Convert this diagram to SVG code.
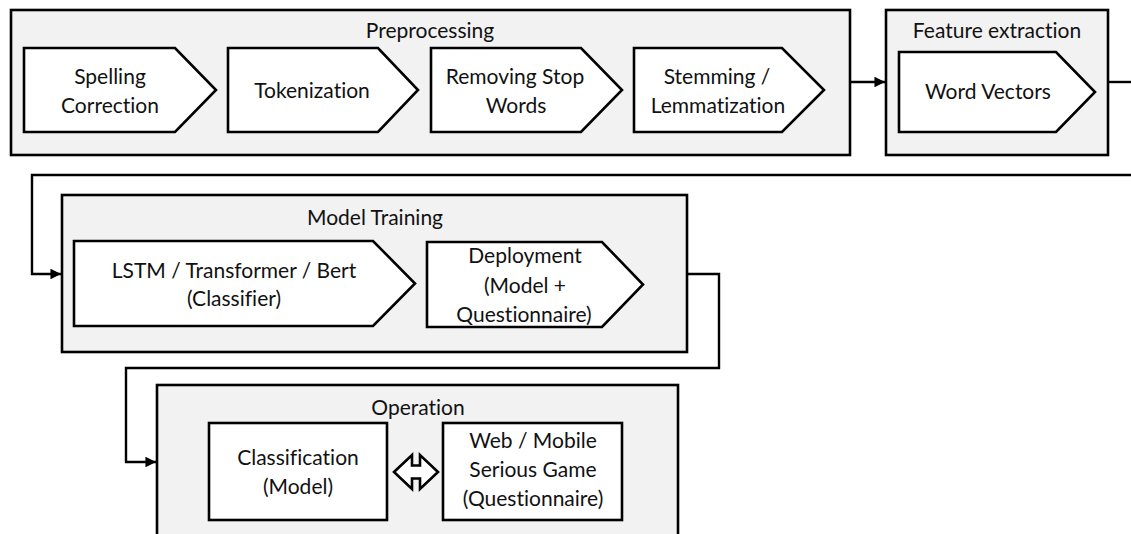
<svg xmlns="http://www.w3.org/2000/svg" width="1131" height="534" viewBox="0 0 1131 534">
  <defs>
    <style>
      .stage { fill: #f2f2f2; stroke: #000; stroke-width: 2.6; }
      .step { fill: #fff; stroke: #000; stroke-width: 2.6; stroke-linejoin: miter; }
      .link { fill: none; stroke: #000; stroke-width: 2.4; }
      text { font-family: Lato, "Open Sans", "Liberation Sans", sans-serif; font-size: 21px; fill: #111; text-anchor: middle; font-variant-ligatures: none; }
    </style>
    <marker id="head" viewBox="0 0 10 10" refX="10" refY="5" markerWidth="4.4" markerHeight="4.4" orient="auto" markerUnits="strokeWidth">
      <path d="M0,0 L10,5 L0,10 z" fill="#000"/>
    </marker>
  </defs>
  <rect width="1131" height="534" fill="#fff"/>

  <!-- Preprocessing stage -->
  <g id="preprocessing">
    <rect class="stage" x="11" y="10" width="839" height="145"/>
    <text x="430" y="38">Preprocessing</text>
  </g>
  <g id="spelling-correction">
    <polygon class="step" points="24,48 175,48 216,90 175,132 24,132"/>
    <text x="110" y="84">Spelling</text>
    <text x="110" y="113">Correction</text>
  </g>
  <g id="tokenization">
    <polygon class="step" points="228,48 378,48 418,90 378,132 228,132"/>
    <text x="312" y="98">Tokenization</text>
  </g>
  <g id="removing-stop-words">
    <polygon class="step" points="431,48 581,48 622,90 581,132 431,132"/>
    <text x="515" y="84">Removing Stop</text>
    <text x="516" y="113">Words</text>
  </g>
  <g id="stemming">
    <polygon class="step" points="634,48 782,48 824,90 782,132 634,132"/>
    <text x="717" y="84">Stemming /</text>
    <text x="718" y="113">Lemmatization</text>
  </g>

  <!-- Feature extraction stage -->
  <g id="feature-extraction">
    <rect class="stage" x="886" y="10" width="222" height="145"/>
    <text x="997" y="38">Feature extraction</text>
  </g>
  <g id="word-vectors">
    <polygon class="step" points="899,52 1056,52 1095,92 1056,132 899,132"/>
    <text x="988" y="99">Word Vectors</text>
  </g>

  <!-- Model training stage -->
  <g id="model-training">
    <rect class="stage" x="62" y="195" width="625" height="157"/>
    <text x="375" y="225">Model Training</text>
  </g>
  <g id="classifier">
    <polygon class="step" points="74,241 373,241 415,283.5 373,326 74,326"/>
    <text x="234" y="278">LSTM / Transformer / Bert</text>
    <text x="234" y="306">(Classifier)</text>
  </g>
  <g id="deployment">
    <polygon class="step" points="427,242 602,242 643,284.5 602,327 427,327"/>
    <text x="525" y="263">Deployment</text>
    <text x="525" y="293">(Model +</text>
    <text x="524" y="322">Questionnaire)</text>
  </g>

  <!-- Operation stage -->
  <g id="operation">
    <rect class="stage" x="157" y="385" width="521" height="160"/>
    <text x="418" y="415">Operation</text>
  </g>
  <g id="classification">
    <rect class="step" x="209" y="423" width="178" height="97"/>
    <text x="298" y="465">Classification</text>
    <text x="298" y="494">(Model)</text>
  </g>
  <g id="serious-game">
    <rect class="step" x="443" y="423" width="179" height="97"/>
    <text x="533" y="448">Web / Mobile</text>
    <text x="533" y="477">Serious Game</text>
    <text x="533" y="506">(Questionnaire)</text>
  </g>

  <!-- Connectors -->
  <g id="connectors">
    <path class="link" d="M850,82 H885" marker-end="url(#head)"/>
    <path class="link" d="M1108,82 H1131"/>
    <path class="link" d="M1131,175 H32 V274 H61" marker-end="url(#head)"/>
    <path class="link" d="M687,274 H719 V368 H126 V462 H156" marker-end="url(#head)"/>
    <polygon class="step" points="394,472 412,455 412,465.5 420,465.5 420,455 438,472 420,489 420,478.5 412,478.5 412,489"/>
  </g>
</svg>
